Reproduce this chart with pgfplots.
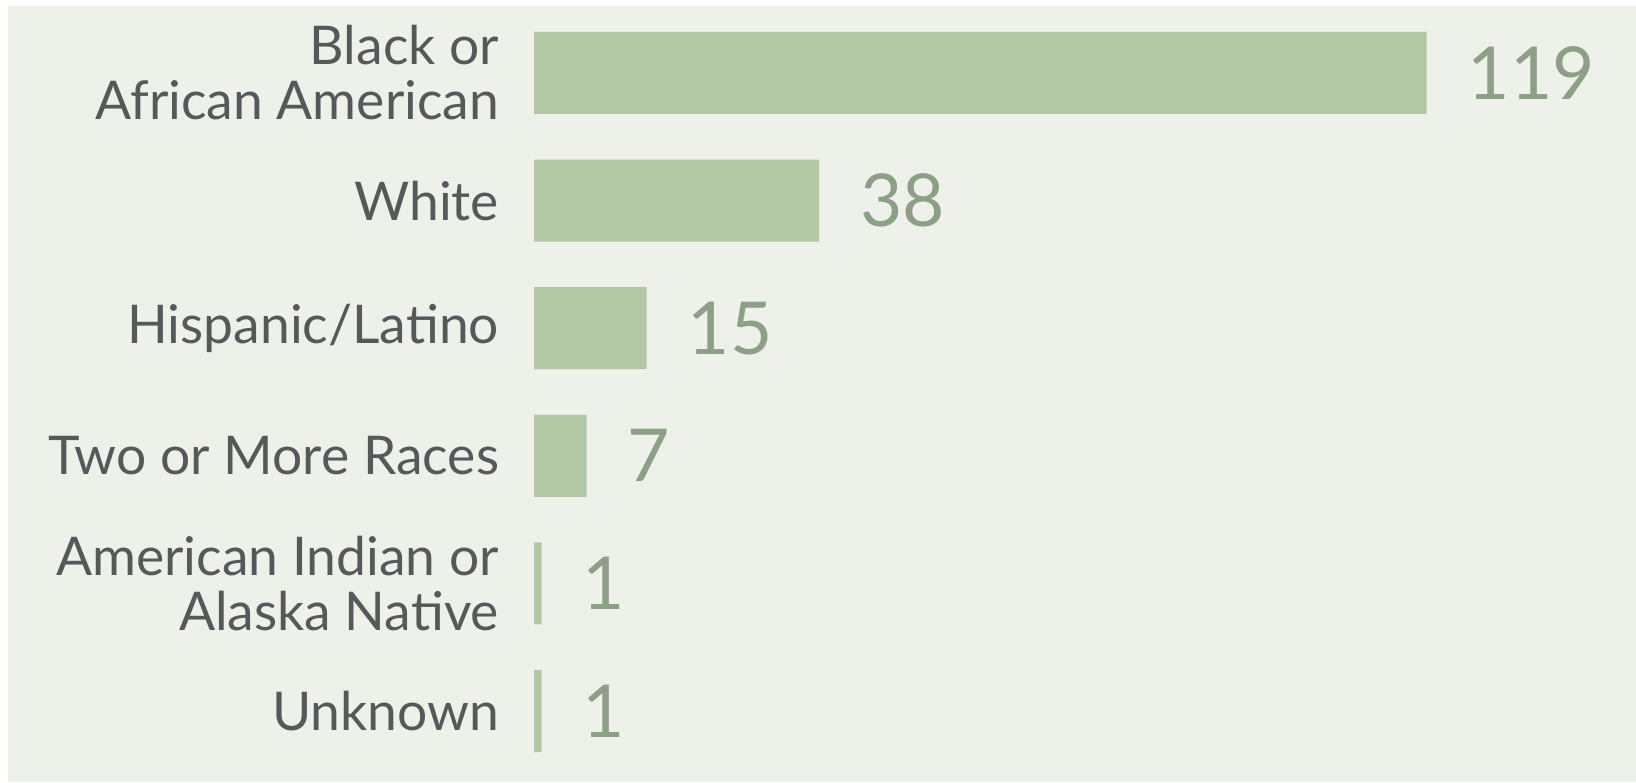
\documentclass[border=0pt]{standalone}
\usepackage{fontspec}
\setmainfont{Lato}
\usepackage{pgfplots}
\pgfplotsset{compat=1.18}
\definecolor{bg}{HTML}{EDF1EA}
\definecolor{barc}{HTML}{B2C8A5}
\definecolor{lab}{HTML}{55595A}
\definecolor{val}{HTML}{8E9F88}
\begin{document}
\begin{tikzpicture}
\fill[white] (0,0) rectangle (818pt,391pt);
\fill[bg] (4pt,0) rectangle (818pt,388pt);
\begin{axis}[
 at={(267pt,0pt)}, anchor=south west,
 scale only axis, width=551pt, height=391pt,
 xbar, bar width=41pt,
 xmin=0, xmax=146.93,
 ymin=-0.572, ymax=5.556, y dir=reverse,
 xtick=\empty,
 axis line style={draw=none},
 tick style={draw=none},
 major tick length=0pt,
 ytick={0,1,2,3,4,5},
 yticklabels={{Black or\\African American},White,Hispanic/Latino,Two or More Races,{American Indian or\\Alaska Native},Unknown},
 yticklabel style={font=\fontsize{26.7}{27.5}\selectfont, text=lab, align=right, inner sep=0pt, xshift=-17.3pt},
 nodes near coords,
 nodes near coords style={font=\fontsize{36.5}{36.5}\selectfont, text=val, anchor=west, inner sep=0pt, xshift=20.5pt},
 /pgf/number format/assume math mode=true,
 clip=false,
]
\addplot[fill=barc, draw=none] coordinates {(119,0) (38,1) (15,2) (7,3) (1,4) (1,5)};
\end{axis}
\end{tikzpicture}
\end{document}
